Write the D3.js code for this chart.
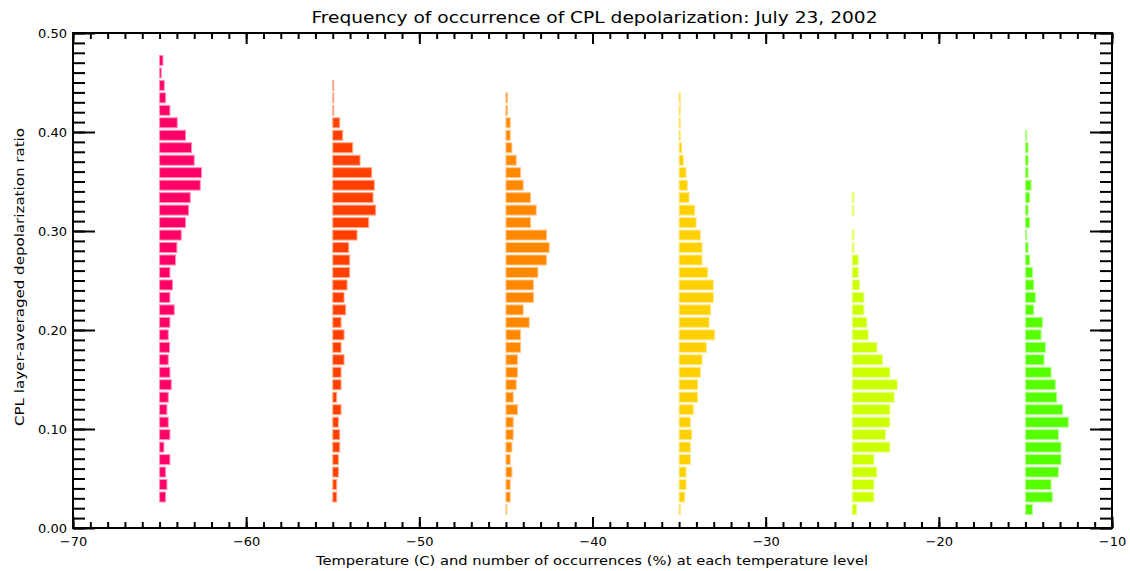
<!DOCTYPE html>
<html><head><meta charset="utf-8">
<script src="https://cdn.jsdelivr.net/npm/d3@7"></script>
<style>body{margin:0;background:#fff}svg{display:block}text{font-family:"DejaVu Sans",sans-serif;fill:#000}</style>
</head><body><svg id="chart" width="1130" height="571"></svg>
<script>
// ---- data ----
const temperatures = [-65, -55, -45, -35, -25, -15];
const seriesColors = ["#ff0066", "#ff4000", "#ff8800", "#ffd000", "#ccff00", "#55ff00"];
// depolarization ratio bin centres (bottom to top)
const depolBins = [0.0187, 0.0313, 0.0439, 0.0565, 0.0691, 0.0817, 0.0943, 0.1069, 0.1195, 0.1321,
  0.1447, 0.1573, 0.1699, 0.1825, 0.1951, 0.2077, 0.2203, 0.2329, 0.2455, 0.2581,
  0.2707, 0.2833, 0.2959, 0.3085, 0.3211, 0.3337, 0.3463, 0.3589, 0.3715, 0.3841,
  0.3967, 0.4093, 0.4219, 0.4345, 0.4471, 0.4597, 0.4723];
// percentage of occurrences in each bin, per temperature level
const pctM65 = [0, 1.04, 1.27, 1.04, 1.79, 0.75, 1.79, 1.5, 1.27, 1.5, 2.02, 1.79, 1.5, 1.73, 1.5, 1.79, 2.54, 1.79, 2.25, 1.79, 2.77, 3.0, 3.75, 4.5, 5.02, 5.31, 7.04, 7.27, 6.0, 5.54, 4.5, 3.06, 1.79, 1.04, 0.81, 0.29, 0.58];
const pctM55 = [0, 0.69, 0.69, 0.98, 0.98, 1.21, 1.21, 0.98, 1.44, 0.69, 1.44, 1.44, 1.96, 1.44, 1.96, 1.44, 2.25, 1.96, 2.48, 2.94, 2.94, 2.77, 4.21, 6.23, 7.44, 6.98, 7.21, 6.75, 4.73, 3.46, 1.73, 1.21, 0.17, 0.17, 0.17, 0, 0];
const pctM45 = [0.17, 0.75, 0.75, 1.04, 0.75, 1.04, 1.27, 1.27, 2.02, 1.27, 1.79, 2.02, 2.02, 2.54, 2.54, 4.04, 3.0, 4.79, 4.79, 5.54, 7.04, 7.5, 7.04, 4.27, 5.25, 4.27, 3.0, 2.54, 1.79, 1.04, 0.75, 0.75, 0.29, 0.29, 0, 0, 0];
const pctM35 = [0.23, 0.98, 1.21, 1.21, 1.96, 1.96, 2.19, 1.96, 2.48, 3.23, 3.23, 3.69, 3.98, 4.73, 6.17, 5.19, 5.48, 5.94, 5.94, 4.96, 3.98, 3.98, 3.69, 2.94, 2.71, 1.73, 1.44, 1.21, 0.75, 0.46, 0.23, 0.23, 0.23, 0.23, 0, 0, 0];
const pctM25 = [0.75, 3.75, 3.75, 4.27, 3.75, 6.52, 5.77, 6.52, 6.52, 7.27, 7.79, 6.52, 5.25, 4.27, 2.77, 2.54, 2.02, 2.02, 1.27, 1.04, 1.04, 0.29, 0.29, 0, 0.29, 0.29, 0, 0, 0, 0, 0, 0, 0, 0, 0, 0, 0];
const pctM15 = [1.21, 4.67, 4.44, 5.71, 6.17, 6.17, 5.71, 7.44, 6.46, 5.42, 5.19, 4.44, 3.23, 3.46, 2.71, 2.94, 1.44, 1.73, 1.44, 1.21, 0.75, 0.46, 0.23, 0.75, 0.46, 0.75, 0.98, 0.46, 0.46, 0.46, 0.23, 0, 0, 0, 0, 0, 0];
const seriesValues = [pctM65, pctM55, pctM45, pctM35, pctM25, pctM15];
const xTickValues = [-70, -60, -50, -40, -30, -20, -10];
const yTickValues = [0, 0.1, 0.2, 0.3, 0.4, 0.5];
const titleText = "Frequency of occurrence of CPL depolarization: July 23, 2002";
const xTitleText = "Temperature (C) and number of occurrences (%) at each temperature level";
const yTitleText = "CPL layer-averaged depolarization ratio";

// ---- layout ----
const PCT_PER_DEGREE = 3;   // bar length: 3 % per degree of temperature axis
const binWidth = 0.0126;
const L = 73, R = 1112, T = 33, B = 528;
const svg = d3.select("#chart");
const x = d3.scaleLinear().domain([-70, -10]).range([L, R]);
const y = d3.scaleLinear().domain([0, 0.5]).range([B, T]);

// bars
const barH = (y(0) - y(binWidth)) * 0.8;
const rows = [];
temperatures.forEach((t, si) => {
  seriesValues[si].forEach((v, bi) => {
    if (v > 0) rows.push({t, v, d: depolBins[bi], c: seriesColors[si]});
  });
});
svg.append("g").selectAll("rect").data(rows).join("rect")
  .attr("x", d => x(d.t))
  .attr("y", d => y(d.d) - barH / 2)
  .attr("width", d => Math.max(0.6, x(d.t + d.v / PCT_PER_DEGREE) - x(d.t)))
  .attr("height", barH)
  .attr("fill", d => d.c)
  .attr("stroke", d => d3.interpolateRgb(d.c, "#ffffff")(0.55))
  .attr("stroke-width", 1);

// axes
function styleAxis(g) {
  g.select(".domain").remove();
  g.selectAll(".tick line").attr("stroke", "#000").attr("stroke-width", 2);
  g.selectAll("text").style("font-size", "13px").attr("fill", "#000");
}
const xMinor = d3.range(-70, -9, 1);
const yMinor = d3.range(0, 0.501, 0.01);
// bottom
svg.append("g").attr("transform", `translate(0,${B})`)
  .call(d3.axisBottom(x).tickValues(xMinor).tickSize(-6).tickFormat("")).call(styleAxis);
svg.append("g").attr("transform", `translate(0,${B})`)
  .call(d3.axisBottom(x).tickValues(xTickValues).tickSize(-11).tickPadding(9)).call(styleAxis);
// top
svg.append("g").attr("transform", `translate(0,${T})`)
  .call(d3.axisTop(x).tickValues(xMinor).tickSize(-6).tickFormat("")).call(styleAxis);
svg.append("g").attr("transform", `translate(0,${T})`)
  .call(d3.axisTop(x).tickValues(xTickValues).tickSize(-11).tickFormat("")).call(styleAxis);
// left
svg.append("g").attr("transform", `translate(${L},0)`)
  .call(d3.axisLeft(y).tickValues(yMinor).tickSize(-12).tickFormat("")).call(styleAxis);
svg.append("g").attr("transform", `translate(${L},0)`)
  .call(d3.axisLeft(y).tickValues(yTickValues).tickSize(-22).tickPadding(6).tickFormat(d3.format(".2f"))).call(styleAxis);
// right
svg.append("g").attr("transform", `translate(${R},0)`)
  .call(d3.axisRight(y).tickValues(yMinor).tickSize(-12).tickFormat("")).call(styleAxis);
svg.append("g").attr("transform", `translate(${R},0)`)
  .call(d3.axisRight(y).tickValues(yTickValues).tickSize(-22).tickFormat("")).call(styleAxis);

// frame
svg.append("rect").attr("x", L).attr("y", T).attr("width", R - L).attr("height", B - T)
  .attr("fill", "none").attr("stroke", "#000").attr("stroke-width", 2);

// titles
svg.append("text").attr("x", (L + R) / 2 + 2).attr("y", 23).attr("text-anchor", "middle")
  .style("font-size", "16px").attr("textLength", 566).attr("lengthAdjust", "spacingAndGlyphs").text(titleText);
svg.append("text").attr("x", 592).attr("y", 565).attr("text-anchor", "middle")
  .style("font-size", "13px").attr("textLength", 552).attr("lengthAdjust", "spacingAndGlyphs").text(xTitleText);
svg.append("text").attr("transform", "translate(24,277) rotate(-90)").attr("text-anchor", "middle")
  .style("font-size", "13px").attr("textLength", 298).attr("lengthAdjust", "spacingAndGlyphs").text(yTitleText);
</script></body></html>
